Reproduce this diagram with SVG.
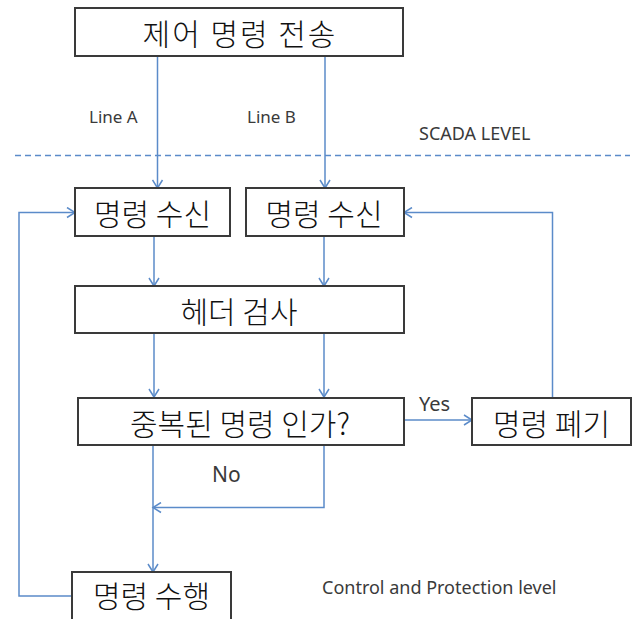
<svg xmlns="http://www.w3.org/2000/svg" width="632" height="619" viewBox="0 0 632 619">
<style>
.box{fill:#fff;stroke:#3a3a3a;stroke-width:2}
.kt{font-family:"Noto Sans CJK KR","Noto Sans",sans-serif;font-size:30px;font-weight:300;fill:#111;text-anchor:middle}
.lbl{font-family:"Noto Sans","Liberation Sans",sans-serif;fill:#3a3a3a}
.con{fill:none;stroke:#5b8bc9;stroke-width:1.5}
</style>
<defs>
<marker id="ah" markerUnits="userSpaceOnUse" markerWidth="12" markerHeight="12" refX="9" refY="6" orient="auto">
<path d="M1,1 L9,6 L1,11" fill="none" stroke="#5b8bc9" stroke-width="1.5"/>
</marker>
</defs>
<rect width="632" height="619" fill="#fff"/>
<g id="connectors">
<line class="con" x1="157.5" y1="56" x2="157.5" y2="188" marker-end="url(#ah)"/>
<line class="con" x1="325" y1="56" x2="325" y2="188" marker-end="url(#ah)"/>
<line class="con" x1="154" y1="237" x2="154" y2="286" marker-end="url(#ah)"/>
<line class="con" x1="324" y1="237" x2="324" y2="286" marker-end="url(#ah)"/>
<line class="con" x1="154" y1="333" x2="154" y2="397" marker-end="url(#ah)"/>
<line class="con" x1="324" y1="333" x2="324" y2="397" marker-end="url(#ah)"/>
<line class="con" x1="404" y1="420" x2="472" y2="420" marker-end="url(#ah)"/>
<polyline class="con" points="552.5,398 552.5,212.5 404,212.5" marker-end="url(#ah)"/>
<line class="con" x1="153" y1="445" x2="153" y2="572" marker-end="url(#ah)"/>
<polyline class="con" points="324,445 324,507.5 153,507.5" marker-end="url(#ah)"/>
<polyline class="con" points="72,596 19,596 19,212.5 75,212.5" marker-end="url(#ah)"/>
<line x1="15" y1="155.5" x2="630" y2="155.5" stroke="#5b8bc9" stroke-width="1.3" stroke-dasharray="6 4"/>
</g>
<g id="n-send">
<rect class="box" x="75" y="8" width="328" height="48"/>
<text class="kt" x="240" y="45" letter-spacing="2">제어 명령 전송</text>
</g>
<g id="n-recvA">
<rect class="box" x="75" y="188" width="155" height="48"/>
<text class="kt" x="152.5" y="225">명령 수신</text>
</g>
<g id="n-recvB">
<rect class="box" x="246" y="188" width="158" height="48"/>
<text class="kt" x="324" y="225">명령 수신</text>
</g>
<g id="n-header">
<rect class="box" x="75" y="286" width="329" height="47"/>
<text class="kt" x="239" y="322.5">헤더 검사</text>
</g>
<g id="n-dup">
<rect class="box" x="78" y="398" width="326" height="47"/>
<text class="kt" x="240" y="434.5">중복된 명령 인가?</text>
</g>
<g id="n-discard">
<rect class="box" x="472" y="398" width="159" height="47"/>
<text class="kt" x="551.5" y="434.5">명령 폐기</text>
</g>
<g id="n-exec">
<rect class="box" x="72" y="572" width="159" height="60"/>
<text class="kt" x="151.5" y="606.5">명령 수행</text>
</g>
<g id="labels">
<text class="lbl" x="89" y="123" font-size="17">Line A</text>
<text class="lbl" x="247" y="123" font-size="17">Line B</text>
<text class="lbl" x="419" y="140" font-size="18">SCADA LEVEL</text>
<text class="lbl" x="419" y="411" font-size="20">Yes</text>
<text class="lbl" x="212" y="482" font-size="21">No</text>
<text class="lbl" x="322" y="594" font-size="18">Control and Protection level</text>
</g>
</svg>
